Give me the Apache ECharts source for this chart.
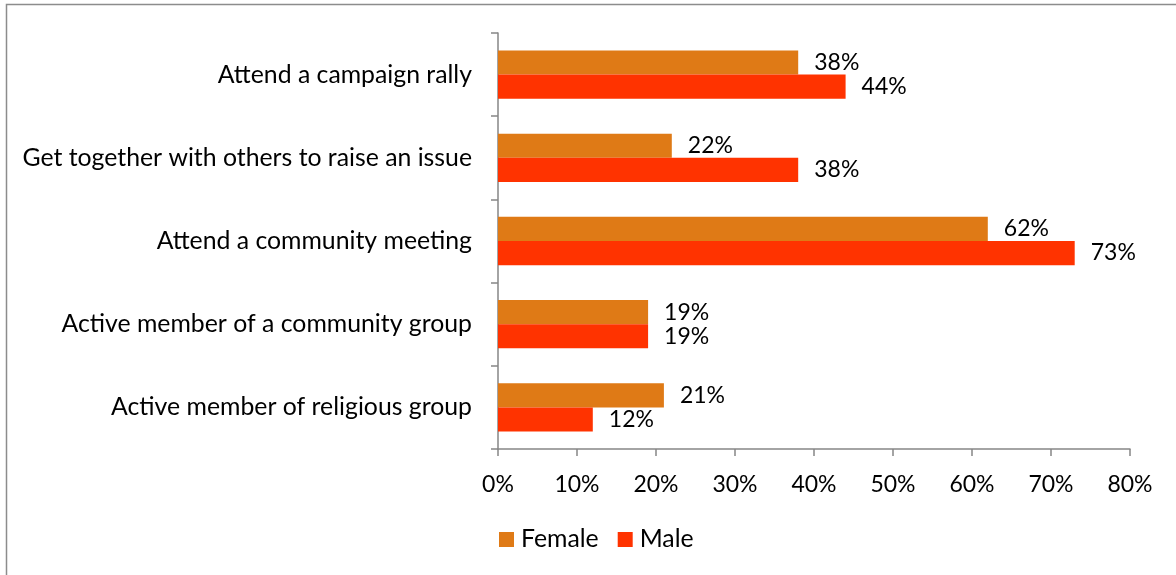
<!DOCTYPE html>
<html><head><meta charset="utf-8">
<script src="https://cdn.jsdelivr.net/npm/echarts@6/dist/echarts.min.js"></script>
<style>html,body{margin:0;padding:0;background:#fff}#c{width:1176px;height:575px}</style>
</head><body><div id="c"></div>
<script>
const categories = ["Attend a campaign rally","Get together with others to raise an issue","Attend a community meeting","Active member of a community group","Active member of religious group"];
const female = [38, 22, 62, 19, 21];
const male = [44, 38, 73, 19, 12];
const xTicks = [0,10,20,30,40,50,60,70,80];

const FONT = "Lato";
const FS = 23;   // numeric text
const FT = 24.8; // word text
const chart = echarts.init(document.getElementById('c'));
chart.setOption({
  animation:false,
  textStyle:{fontFamily:FONT},
  graphic:[{type:'rect',shape:{x:6.5,y:4.5,width:1200,height:600},style:{fill:'none',stroke:'#8c8c8c',lineWidth:1.5}}],
  grid:{left:498,right:46,top:33,bottom:126},
  legend:{bottom:18,left:494,itemWidth:15,itemHeight:15,itemGap:19,icon:'rect',
    textStyle:{fontFamily:FONT,fontSize:FT,color:'#000',padding:[0,0,0,2]},data:['Female','Male']},
  xAxis:{type:'value',min:0,max:80,interval:10,
    axisLine:{show:true,lineStyle:{color:'#868686',width:1.5}},
    axisTick:{show:true,length:7,lineStyle:{color:'#868686',width:1.5}},
    splitLine:{show:false},
    axisLabel:{margin:24,fontFamily:FONT,fontSize:FS,color:'#000',formatter:v=>v+'%'}},
  yAxis:{type:'category',data:categories,inverse:true,
    axisLine:{show:true,lineStyle:{color:'#868686',width:1.5}},
    axisTick:{show:true,length:7,lineStyle:{color:'#868686',width:1.5}},
    axisLabel:{margin:26,fontFamily:FONT,fontSize:FT,color:'#000'}},
  series:[
    {name:'Female',type:'bar',data:female,barGap:'0%',barCategoryGap:'42%',
     itemStyle:{color:'#DF7A16'},
     label:{show:true,position:'right',distance:16,formatter:'{c}%',fontFamily:FONT,fontSize:FS,color:'#000'}},
    {name:'Male',type:'bar',data:male,barGap:'0%',barCategoryGap:'42%',
     itemStyle:{color:'#FF3300'},
     label:{show:true,position:'right',distance:16,formatter:'{c}%',fontFamily:FONT,fontSize:FS,color:'#000'}}
  ]
});
</script></body></html>
